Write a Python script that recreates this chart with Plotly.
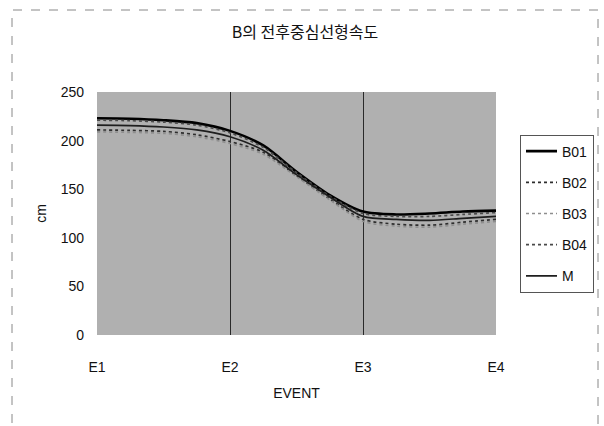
import plotly.graph_objects as go

# Sample positions along the event axis (0 = E1 ... 3 = E4)
positions = [0, 0.25, 0.5, 0.75, 1, 1.25, 1.5, 1.75, 2, 2.25, 2.5, 2.75, 3]
event_labels = ["E1", "E2", "E3", "E4"]
event_ticks = [0, 1, 2, 3]

b01 = [223, 222.5, 221, 218, 210, 195, 168, 144, 127, 124, 125, 127, 128]
b02 = [211, 210.5, 209.5, 206, 199, 188, 164, 140, 119, 114, 113, 116, 119]
b03 = [209, 208.5, 207.5, 204, 197, 186, 163, 139, 117, 112, 111, 114, 117]
b04 = [221, 220.5, 219, 216, 208, 193, 167, 143, 125, 122, 122, 124, 126]
m = [216, 215.5, 214, 211, 204, 190, 165, 142, 122, 119, 118, 120, 122]

series = [
    ("B01", b01, dict(color="#000000", width=2.6, dash="solid")),
    ("B02", b02, dict(color="#2e2e2e", width=1.7, dash="dot")),
    ("B03", b03, dict(color="#8e8e8e", width=1.7, dash="dot")),
    ("B04", b04, dict(color="#4a4a4a", width=1.7, dash="dot")),
    ("M", m, dict(color="#1e1e1e", width=1.7, dash="solid")),
]

fig = go.Figure()
for name, vals, style in series:
    fig.add_trace(go.Scatter(
        x=positions, y=vals, name=name, mode="lines",
        line=dict(shape="spline", smoothing=0.8, **style),
        legendgroup=name,
    ))

W, H = 604, 426
L, R, T, B = 97, 108, 92, 91
pw, ph = W - L - R, H - T - B

def px_x(px):
    return (px - L) / pw

def px_y(py):
    return (H - B - py) / ph

font_family = "Liberation Sans, Arial, sans-serif"

fig.update_layout(
    width=W, height=H,
    margin=dict(l=L, r=R, t=T, b=B, pad=0, autoexpand=False),
    paper_bgcolor="white",
    plot_bgcolor="#b0b0b0",
    font=dict(family=font_family, size=14, color="#111111"),
    title=dict(
        text="B의 전후중심선형속도",
        font=dict(family="Noto Sans CJK KR, sans-serif", size=16, color="#111111"),
        x=px_x(305), xref="paper", xanchor="center",
        y=1 - 32 / H, yref="container", yanchor="middle",
    ),
    xaxis=dict(
        range=[0, 3], tickvals=event_ticks, ticktext=event_labels,
        showgrid=True, gridcolor="#2a2a2a", gridwidth=1,
        zeroline=False, showline=False, ticks="",
        ticklabelstandoff=22,
        title=dict(text="EVENT", standoff=14, font=dict(size=14)),
        tickfont=dict(size=14),
    ),
    yaxis=dict(
        range=[0, 250], tickvals=[0, 50, 100, 150, 200, 250],
        showgrid=False, zeroline=False, showline=False, ticks="",
        ticklabelstandoff=12,
        title=dict(text="cm", standoff=10, font=dict(size=14)),
        tickfont=dict(size=14),
    ),
    legend=dict(
        x=px_x(520), xanchor="left", y=0.5, yanchor="middle",
        bordercolor="#555555", borderwidth=1, bgcolor="white",
        font=dict(size=14), tracegroupgap=10, itemwidth=31,
    ),
    showlegend=True,
    shapes=[
        dict(type="rect", xref="paper", yref="paper",
             x0=px_x(12), x1=px_x(598), y0=px_y(432), y1=px_y(10),
             line=dict(color="#888888", width=1, dash="dash"),
             layer="below"),
    ],
)

fig.write_html("out.html")
